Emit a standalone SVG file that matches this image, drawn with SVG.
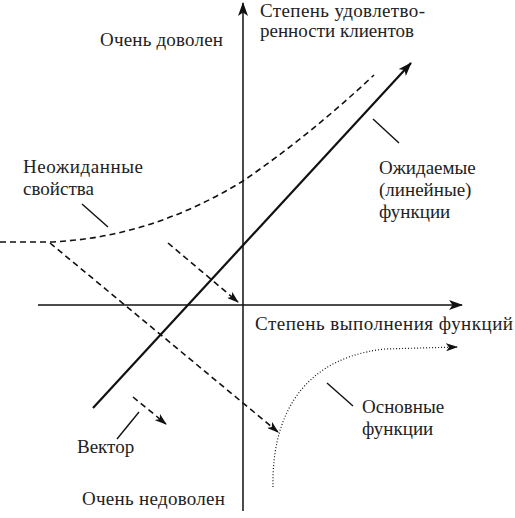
<svg xmlns="http://www.w3.org/2000/svg" width="515" height="518" viewBox="0 0 515 518">
<style>
text{font-family:"Liberation Serif","Times New Roman",serif;font-size:19px;fill:#222}
.ax{stroke:#111;stroke-width:1.5;fill:none}
.thick{stroke:#111;stroke-width:2.2;fill:none}
.dash{stroke:#111;stroke-width:1.6;fill:none;stroke-dasharray:6,4}
.dot{stroke:#111;stroke-width:1.2;fill:none;stroke-dasharray:1,2}
.lead{stroke:#111;stroke-width:1.4;fill:none}
</style>
<defs>
<marker id="ah" viewBox="0 0 12 8" markerWidth="12" markerHeight="8" refX="11" refY="4" orient="auto" markerUnits="userSpaceOnUse">
<path d="M0,0 L12,4 L0,8 L3,4 z" fill="#111"/>
</marker>
<marker id="ahb" viewBox="0 0 14 10" markerWidth="14" markerHeight="10" refX="13" refY="5" orient="auto" markerUnits="userSpaceOnUse">
<path d="M0,0 L14,5 L0,10 L3.5,5 z" fill="#111"/>
</marker>
</defs>
<g id="connectors">
<line class="ax" x1="243" y1="511" x2="243" y2="3" marker-end="url(#ahb)"/>
<line class="ax" x1="38" y1="305" x2="462" y2="305" marker-end="url(#ahb)"/>
<line class="thick" x1="93" y1="408" x2="411" y2="63" marker-end="url(#ahb)"/>
<path class="dash" d="M0,242 L50,242 Q150,238 243,181 Q310,135 374,75"/>
<line class="dash" x1="50" y1="243" x2="278" y2="432" marker-end="url(#ah)"/>
<line class="dash" x1="168" y1="243" x2="238" y2="302" marker-end="url(#ah)"/>
<line class="dash" x1="133" y1="397" x2="166" y2="424" marker-end="url(#ah)"/>
<path class="dot" d="M273,487 C272,440 285,360 385,349 L457,347" marker-end="url(#ah)"/>
<line class="lead" x1="373" y1="119" x2="399" y2="143"/>
<line class="lead" x1="82" y1="204" x2="108" y2="227"/>
<line class="lead" x1="327" y1="383" x2="353" y2="406"/>
<line class="lead" x1="139" y1="412" x2="117" y2="439"/>
</g>
<g id="y-axis-label"><text x="260" y="17" textLength="165">Степень удовлетво-</text><text x="260" y="37" textLength="154">ренности клиентов</text></g>
<g id="very-satisfied"><text x="100" y="46" textLength="123">Очень доволен</text></g>
<g id="unexpected"><text x="23" y="173" textLength="120">Неожиданные</text><text x="23" y="195">свойства</text></g>
<g id="expected"><text x="379" y="174">Ожидаемые</text><text x="379" y="196">(линейные)</text><text x="379" y="218">функции</text></g>
<g id="x-axis-label"><text x="255" y="330" textLength="258">Степень выполнения функций</text></g>
<g id="basic"><text x="362" y="413">Основные</text><text x="362" y="435">функции</text></g>
<g id="vector"><text x="77" y="453">Вектор</text></g>
<g id="very-dissatisfied"><text x="82" y="505" textLength="143">Очень недоволен</text></g>
</svg>
